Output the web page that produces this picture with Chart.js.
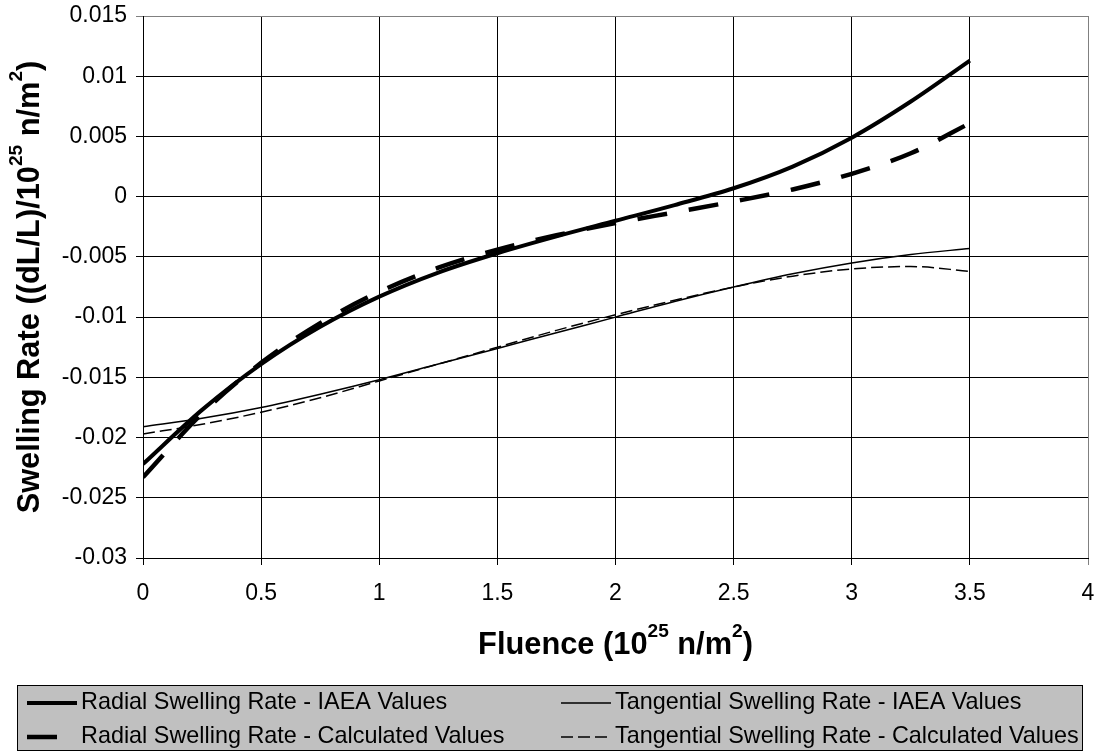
<!DOCTYPE html>
<html>
<head>
<meta charset="utf-8">
<script src="https://cdn.jsdelivr.net/npm/chart.js@4.4.1/dist/chart.umd.min.js"></script>
<style>
  html, body { margin: 0; padding: 0; background: #fff; }
  #chart { display: block; }
</style>
</head>
<body>
<canvas id="chart" width="1097" height="752"></canvas>
<script>
// Fluence (10^25 n/m^2)
var fluence = [0, 0.25, 0.5, 0.75, 1, 1.25, 1.5, 1.75, 2, 2.25, 2.5, 2.75, 3, 3.25, 3.5];

// Swelling rate values
var radialIaea = [-0.0222, -0.0177, -0.0139, -0.0108, -0.0083, -0.0063, -0.0047, -0.0033, -0.0020, -0.0007, 0.0007, 0.0025, 0.0049, 0.0079, 0.0113];
var radialCalc = [-0.0233, -0.0180, -0.0138, -0.0105, -0.0079, -0.0059, -0.0044, -0.0032, -0.0022, -0.0013, -0.0004, 0.0006, 0.0019, 0.0036, 0.0061];
var tangIaea = [-0.0191, -0.0184, -0.0175, -0.0164, -0.0152, -0.0139, -0.0126, -0.0113, -0.0100, -0.0087, -0.0075, -0.0064, -0.0055, -0.0048, -0.0043];
var tangCalc = [-0.0197, -0.0189, -0.0179, -0.0167, -0.0153, -0.0139, -0.0125, -0.0111, -0.0098, -0.0086, -0.0075, -0.0066, -0.0060, -0.0058, -0.0062];

var xTicks = [0, 0.5, 1, 1.5, 2, 2.5, 3, 3.5, 4];
var yTicks = [0.015, 0.01, 0.005, 0, -0.005, -0.01, -0.015, -0.02, -0.025, -0.03];

var FONT = '"Liberation Sans", Arial, sans-serif';

function points(ys) {
    return fluence.map(function (x, i) { return { x: x, y: ys[i] }; });
}

function line(label, ys, width, dash) {
    return {
        label: label,
        data: points(ys),
        borderColor: '#000000',
        backgroundColor: '#000000',
        borderWidth: width,
        borderDash: dash,
        pointRadius: 0,
        fill: false,
        cubicInterpolationMode: 'monotone'
    };
}

// text with superscript parts, centred on x
function drawSupText(ctx, parts, x, y, size) {
    var total = 0;
    parts.forEach(function (p) {
        ctx.font = 'bold ' + (p[1] ? size * 0.62 : size) + 'px ' + FONT;
        p.w = ctx.measureText(p[0]).width;
        total += p.w;
    });
    var cx = x - total / 2;
    ctx.textAlign = 'left';
    ctx.textBaseline = 'middle';
    parts.forEach(function (p) {
        ctx.font = 'bold ' + (p[1] ? size * 0.62 : size) + 'px ' + FONT;
        ctx.fillText(p[0], cx, p[1] ? y - size * 0.45 : y);
        cx += p.w;
    });
}

var titlesAndLegend = {
    id: 'titlesAndLegend',
    afterDraw: function (chart) {
        var ctx = chart.ctx;
        var area = chart.chartArea;
        ctx.save();
        ctx.fillStyle = '#000';

        // x axis title
        drawSupText(ctx, [['Fluence (10', false], ['25', true], [' n/m', false], ['2', true], [')', false]],
            (area.left + area.right) / 2, 646, 30.8);

        // y axis title
        ctx.save();
        ctx.translate(31, (area.top + area.bottom) / 2);
        ctx.rotate(-Math.PI / 2);
        drawSupText(ctx, [['Swelling Rate ((dL/L)/10', false], ['25', true], [' n/m', false], ['2', true], [')', false]],
            0, 0, 30.8);
        ctx.restore();

        // legend box
        var bx0 = 17, by0 = 685, bx1 = 1083, by1 = 751;
        ctx.fillStyle = '#C0C0C0';
        ctx.fillRect(bx0, by0, bx1 - bx0, by1 - by0);
        ctx.strokeStyle = '#000';
        ctx.lineWidth = 1;
        ctx.setLineDash([]);
        ctx.strokeRect(bx0 + 0.5, by0 + 0.5, bx1 - bx0 - 1, by1 - by0 - 1);

        var cols = [27, 561];
        var rows = [703, 737];
        var sampleLen = 50;
        ctx.font = '23.4px ' + FONT;
        ctx.textAlign = 'left';
        ctx.textBaseline = 'middle';
        chart.data.datasets.forEach(function (ds, i) {
            var x = cols[i % 2];
            var y = rows[Math.floor(i / 2)];
            ctx.strokeStyle = ds.borderColor;
            ctx.lineWidth = ds.borderWidth;
            ctx.setLineDash(ds.borderDash || []);
            ctx.beginPath();
            ctx.moveTo(x, y);
            ctx.lineTo(x + sampleLen, y);
            ctx.stroke();
            ctx.setLineDash([]);
            ctx.fillStyle = '#000';
            ctx.fillText(ds.label, x + sampleLen + 4, y);
        });
        ctx.restore();
    }
};

var ctx = document.getElementById('chart').getContext('2d');
var chart = new Chart(ctx, {
    type: 'line',
    data: {
        datasets: [
            line('Radial Swelling Rate - IAEA Values', radialIaea, 4, []),
            line('Tangential Swelling Rate - IAEA Values', tangIaea, 1.5, []),
            line('Radial Swelling Rate - Calculated Values', radialCalc, 4.5, [30, 22]),
            line('Tangential Swelling Rate - Calculated Values', tangCalc, 1.5, [12, 5])
        ]
    },
    options: {
        responsive: false,
        animation: false,
        layout: { padding: { top: 16, right: 9, left: 0, bottom: 0 } },
        plugins: {
            legend: { display: false },
            tooltip: { enabled: false },
            title: { display: false }
        },
        scales: {
            x: {
                type: 'linear',
                min: xTicks[0],
                max: xTicks[xTicks.length - 1],
                afterBuildTicks: function (scale) {
                    scale.ticks = xTicks.map(function (v) { return { value: v }; });
                },
                ticks: {
                    color: '#000',
                    font: { family: FONT, size: 23 },
                    padding: 15,
                    maxRotation: 0,
                    autoSkip: false,
                    callback: function (v) { return String(Number(v.toFixed(2))); }
                },
                grid: {
                    color: function (c) { return c.tick && c.tick.value === 4 ? '#808080' : '#000'; },
                    lineWidth: 1,
                    tickLength: 7
                },
                border: { color: '#000', width: 1 },
                afterFit: function (scale) {
                    scale.height = 194;
                    scale.paddingLeft = 0;
                    scale.paddingRight = 0;
                }
            },
            y: {
                type: 'linear',
                min: yTicks[yTicks.length - 1],
                max: yTicks[0],
                afterBuildTicks: function (scale) {
                    scale.ticks = yTicks.slice().reverse().map(function (v) { return { value: v }; });
                },
                ticks: {
                    color: '#000',
                    font: { family: FONT, size: 23 },
                    padding: 9,
                    autoSkip: false,
                    callback: function (v) { return String(Number(v.toFixed(3))); }
                },
                grid: {
                    color: function (c) { return c.tick && Math.abs(c.tick.value - 0.015) < 1e-9 ? '#808080' : '#000'; },
                    lineWidth: 1,
                    tickLength: 7
                },
                border: { color: '#000', width: 1 },
                afterFit: function (scale) {
                    scale.width = 143;
                    scale.paddingTop = 0;
                    scale.paddingBottom = 0;
                }
            }
        }
    },
    plugins: [titlesAndLegend]
});
</script>
</body>
</html>
